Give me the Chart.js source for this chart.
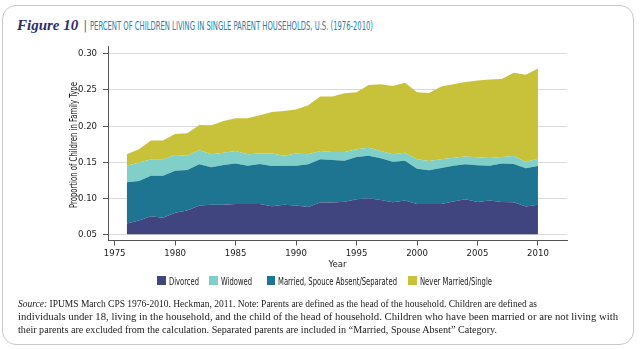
<!DOCTYPE html>
<html>
<head>
<meta charset="utf-8">
<script src="https://cdn.jsdelivr.net/npm/chart.js@4/dist/chart.umd.min.js"></script>
<style>
  html, body { margin: 0; padding: 0; background: #ffffff; }
  body { width: 640px; height: 349px; position: relative; overflow: hidden; }
  #frame { position: absolute; left: 2px; top: 5px; width: 632px; height: 340px;
           border: 1.5px solid #c9c9c9; border-radius: 14px; box-sizing: border-box; }
  #title { position: absolute; left: 17px; top: 16px; white-space: nowrap; }
  #fig { font-family: "Liberation Serif", "DejaVu Serif", serif; font-weight: bold; font-style: italic;
         font-size: 15px; color: #2c2e6c; }
  #bar { font-family: "DejaVu Sans Condensed", "Liberation Sans Narrow", sans-serif; font-size: 13px;
         color: #2a80a6; margin-left: 5px; }
  #head { display: inline-block; font-family: "DejaVu Sans Condensed", "Liberation Sans Narrow", sans-serif;
          font-size: 12px; color: #2a80a6; margin-left: 3px; transform-origin: left center; }
  #wrap { position: absolute; left: 0; top: 0; width: 640px; height: 349px; }
  #ytitle { position: absolute; left: 73px; top: 145px; white-space: nowrap;
            font-family: "DejaVu Sans Condensed", "Liberation Sans Narrow", sans-serif; font-size: 10.5px; color: #222; line-height: 12px; }
  #legend { position: absolute; left: 0; top: 276px; width: 640px; height: 10px;
            font-family: "DejaVu Sans Condensed", "Liberation Sans Narrow", sans-serif; font-size: 10.5px; color: #222; }
  .item { position: absolute; top: 0; display: flex; align-items: center; white-space: nowrap; height: 9px; }
  .sw { width: 8.5px; height: 8.5px; margin-right: 3px; flex: none; }
  .lt { display: inline-block; transform-origin: left center; }
  #note { position: absolute; left: 18px; top: 297px; width: 620px;
          font-family: "Liberation Serif", "DejaVu Serif", serif; font-size: 10px; line-height: 13px; color: #222; white-space: nowrap; }
  #note span { display: block; transform-origin: left center; width: max-content; }
</style>
</head>
<body>
<div id="frame"></div>
<div id="title"><span id="fig">Figure 10</span><span id="bar">|</span><span id="head">PERCENT OF CHILDREN LIVING IN SINGLE PARENT HOUSEHOLDS, U.S. (1976-2010)</span></div>
<div id="wrap"><canvas id="c" width="640" height="349"></canvas></div>
<div id="ytitle">Proportion of Children in Family Type</div>
<div id="legend"></div>
<div id="note"><span><i>Source:</i> IPUMS March CPS 1976-2010. Heckman, 2011. Note: Parents are defined as the head of the household. Children are defined as</span><span>individuals under 18, living in the household, and the child of the head of household. Children who have been married or are not living with</span><span>their parents are excluded from the calculation. Separated parents are included in “Married, Spouse Absent” Category.</span></div>
<script>
const years = [1976,1977,1978,1979,1980,1981,1982,1983,1984,1985,1986,1987,1988,1989,1990,1991,1992,1993,1994,1995,1996,1997,1998,1999,2000,2001,2002,2003,2004,2005,2006,2007,2008,2009,2010];
const divorced = [0.065,0.069,0.075,0.073,0.080,0.083,0.090,0.091,0.091,0.092,0.092,0.092,0.089,0.091,0.090,0.088,0.094,0.094,0.095,0.0985,0.100,0.0976,0.0944,0.097,0.092,0.092,0.092,0.0953,0.0985,0.0948,0.0967,0.0948,0.0944,0.0884,0.091];
const marriedAbsent = [0.057,0.055,0.056,0.058,0.058,0.056,0.057,0.052,0.055,0.056,0.053,0.0555,0.0557,0.054,0.055,0.059,0.060,0.059,0.057,0.0585,0.059,0.0578,0.0563,0.055,0.049,0.0467,0.050,0.0497,0.0485,0.0509,0.0483,0.0532,0.0531,0.0531,0.0537];
const widowed = [0.023,0.025,0.023,0.023,0.022,0.020,0.0195,0.018,0.017,0.0175,0.016,0.0145,0.0173,0.014,0.017,0.014,0.0115,0.011,0.012,0.011,0.011,0.0101,0.0103,0.011,0.013,0.013,0.012,0.011,0.0107,0.011,0.0108,0.009,0.0111,0.0088,0.0103];
const neverMarried = [0.016,0.019,0.026,0.026,0.029,0.031,0.035,0.040,0.044,0.0455,0.050,0.053,0.0576,0.062,0.061,0.068,0.0755,0.077,0.0815,0.079,0.087,0.0925,0.0946,0.097,0.093,0.0943,0.101,0.102,0.1033,0.1063,0.1086,0.1083,0.1154,0.1207,0.1247];
const yTicks = [0.05,0.10,0.15,0.20,0.25,0.30];
const xTicks = [1975,1980,1985,1990,1995,2000,2005,2010];

const COLORS = { divorced: '#41457f', married: '#1e7592', widowed: '#80cfc8', never: '#c8c23b' };
const FONT = '"DejaVu Sans Condensed", "Liberation Sans Narrow", sans-serif';

const series = [
  { label: 'Divorced', values: divorced, color: COLORS.divorced, legendOrder: 0 },
  { label: 'Married, Spouce Absent/Separated', values: marriedAbsent, color: COLORS.married, legendOrder: 2 },
  { label: 'Widowed', values: widowed, color: COLORS.widowed, legendOrder: 1 },
  { label: 'Never Married/Single', values: neverMarried, color: COLORS.never, legendOrder: 3 }
];

const datasets = series.map((s, i) => ({
  label: s.label,
  data: years.map((yr, k) => ({ x: yr, y: s.values[k] })),
  backgroundColor: s.color,
  borderColor: s.color,
  borderWidth: 0,
  pointRadius: 0,
  tension: 0,
  fill: i === 0 ? { value: 0.05 } : '-1'
}));

const axisColor = '#555555';
new Chart(document.getElementById('c'), {
  type: 'line',
  data: { datasets },
  options: {
    responsive: false,
    animation: false,
    events: [],
    layout: { padding: { left: 60, right: 73, top: 46.7, bottom: 78.5 } },
    plugins: { legend: { display: false }, tooltip: { enabled: false } },
    scales: {
      x: {
        type: 'linear', min: 1974.45, max: 2012.4,
        afterBuildTicks: (s) => { s.ticks = xTicks.map(v => ({ value: v })); },
        afterFit: (s) => { s.height = 30; },
        grid: { drawOnChartArea: false, drawTicks: true, tickLength: 5, tickColor: axisColor },
        border: { display: true, color: axisColor, width: 1 },
        ticks: { font: { family: FONT, size: 9.5 }, color: '#222', padding: 2, maxRotation: 0, autoSkip: false,
                 callback: (v) => String(v) },
        title: { display: true, text: 'Year', font: { family: FONT, size: 9.5 }, color: '#222', padding: { top: 0, bottom: 0.5 } }
      },
      y: {
        stacked: true, min: 0.0414, max: 0.310,
        afterBuildTicks: (s) => { s.ticks = yTicks.map(v => ({ value: v })); },
        afterFit: (s) => { s.width = 48; },
        grid: { color: '#dadada', lineWidth: 1, drawTicks: true, tickLength: 5, tickColor: axisColor },
        border: { display: true, color: axisColor, width: 1 },
        ticks: { font: { family: FONT, size: 9.5 }, color: '#222', padding: 6, autoSkip: false,
                 callback: (v) => Number(v).toFixed(2) },
        title: { display: false }
      }
    }
  }
});

// HTML legend built from series (in legend order)
const legendX = [157, 209, 266.5, 408];
const legendW = [30, 31, 119, 72];
const leg = document.getElementById('legend');
series.slice().sort((a, b) => a.legendOrder - b.legendOrder).forEach((s, i) => {
  const it = document.createElement('div');
  it.className = 'item';
  it.style.left = legendX[i] + 'px';
  it.innerHTML = '<div class="sw" style="background:' + s.color + '"></div><span class="lt">' + s.label + '</span>';
  leg.appendChild(it);
  const t = it.querySelector('.lt');
  t.style.transform = 'scaleX(' + (legendW[i] / t.getBoundingClientRect().width) + ')';
});

function fitX(el, target) {
  const w = el.getBoundingClientRect().width;
  el.style.transform = 'scaleX(' + (target / w) + ')';
}
fitX(document.getElementById('head'), 283);
document.querySelectorAll('#note span').forEach((sp, i) => fitX(sp, [519, 600, 479][i]));

const yt = document.getElementById('ytitle');
const yw = yt.getBoundingClientRect().width;
yt.style.transform = 'translate(-50%, -50%) rotate(-90deg) scaleX(' + (126 / yw) + ')';
</script>
</body>
</html>
